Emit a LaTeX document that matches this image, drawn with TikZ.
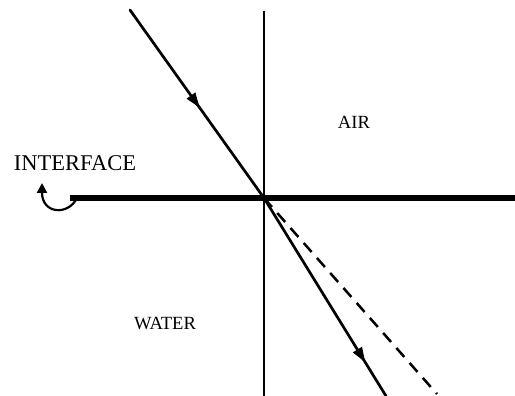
\documentclass[tikz,border=0pt]{standalone}
\usepackage{fontspec}
\setmainfont{Liberation Serif}
\usetikzlibrary{arrows.meta,decorations.markings}
\tikzset{
  ray/.style={line width=2.7pt, line cap=round},
  midarrow/.style={postaction={decorate, decoration={markings,
      mark=at position #1 with {\arrow{Triangle[length=15pt,width=10pt]}}}}},
  label18/.style={font=\fontsize{18.6}{20}\selectfont, inner sep=0pt},
  label22/.style={font=\fontsize{22.5}{24}\selectfont, inner sep=0pt},
}
\begin{document}
\begin{tikzpicture}[x=1pt,y=-1pt]
\useasboundingbox (0,0) rectangle (515,396);
% points
\coordinate (O) at (264,198);
\coordinate (vtop) at (264,11);
\coordinate (vbot) at (264,396);
\coordinate (hl) at (70,198);
\coordinate (hr) at (515,198);
\coordinate (inc) at (130,10);
\coordinate (refr) at (386,396);
\coordinate (ext) at (437,394);
\coordinate (cs) at (77,198);
\coordinate (ce) at (42,183);
% normal and interface
\draw[line width=2pt] (vtop) -- (vbot);
\draw[line width=5pt] (hl) -- (hr);
% rays
\draw[ray, midarrow=0.52] (inc) -- (O);
\draw[ray, midarrow=0.83] (O) -- (refr);
\draw[line width=2.5pt, dash pattern=on 12pt off 8pt] (O) -- (ext);
% curved arrow
\draw[line width=2.2pt, -{Triangle[length=10pt,width=10pt]}] (cs) .. controls (68,216) and (42,214) .. (ce);
% labels
\node[label22] (iface) at (75,163) {INTERFACE};
\node[label18] (air) at (354,122.5) {AIR};
\node[label18] (water) at (165,324) {WATER};
\end{tikzpicture}
\end{document}
